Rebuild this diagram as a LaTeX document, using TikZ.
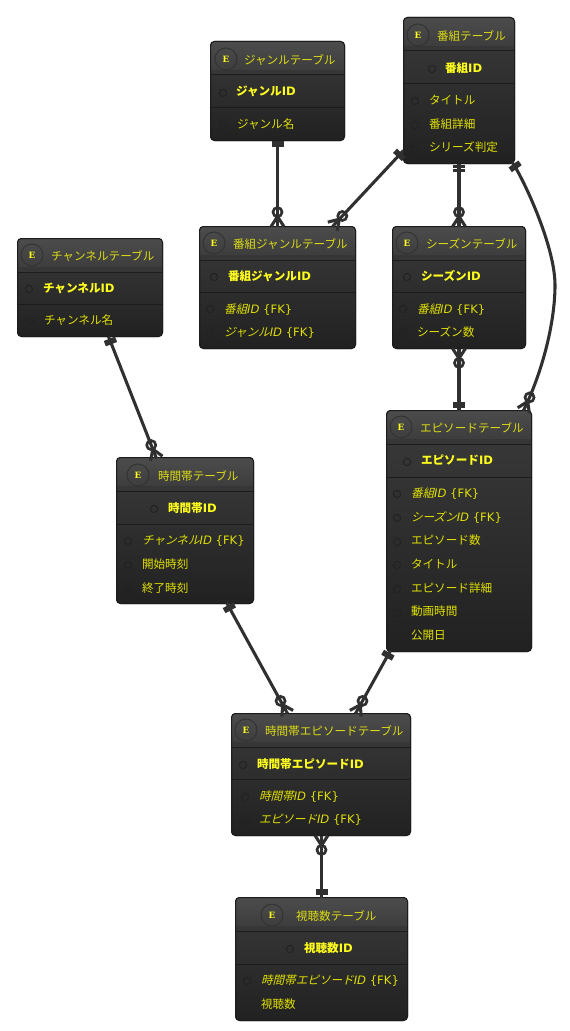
\documentclass[tikz,border=0pt]{standalone}
\usepackage{fontspec}
\setmainfont{DejaVu Sans}
\newfontfamily\jpfont{Noto Sans CJK JP}
\newfontfamily\jpslant[FakeSlant=0.25]{Noto Sans CJK JP}
\newfontfamily\badgefnt{DejaVu Serif}
\usetikzlibrary{calc}
\definecolor{boxedge}{HTML}{1C1C1C}
\definecolor{linkcol}{HTML}{303030}
\definecolor{titlecol}{HTML}{DCDC14}
\definecolor{keycol}{HTML}{FFFF1E}
\definecolor{attrcol}{HTML}{E0E000}
\newcommand{\J}[1]{{\jpfont #1}}
\newcommand{\JB}[1]{{\jpfont\bfseries #1}}
\newcommand{\JI}[1]{{\jpslant #1}}
\tikzset{
  x=0.75pt,y=-0.75pt,
  entbox/.style={anchor=north west,inner sep=0pt,outer sep=0pt,rounded corners=3pt,
    draw=boxedge,line width=0.75pt},
  txt/.style={anchor=base west,inner sep=0pt,outer sep=0pt,font=\fontsize{8.7pt}{11pt}\selectfont},
  titletxt/.style={txt,text=titlecol,yshift=-0.4pt},
  keytxt/.style={txt,text=keycol,font=\fontsize{8.7pt}{11pt}\selectfont\bfseries},
  attrtxt/.style={txt,text=attrcol},
  fktxt/.style={txt,text=attrcol},
  badge/.style={circle,draw=black!80,line width=0.75pt,minimum size=16.5pt,inner sep=0pt,outer sep=0pt,
    text=keycol,text height=4.8pt,text depth=0pt,font=\fontsize{6.5pt}{7pt}\badgefnt\bfseries},
  rowdotstyle/.style={circle,draw=black!87,line width=0.7pt,minimum size=5.5pt,inner sep=0pt,outer sep=0pt},
  linkline/.style={draw=linkcol,line width=2.3pt},
  linkmark/.style={draw=linkcol,line width=2.3pt},
}
% name, x1, y1, x2, y2, header bottom, divider
\newcommand{\entity}[7]{%
  \node[entbox,minimum width={(#4-#2-1)*0.75pt},minimum height={(#5-#3-1)*0.75pt},
        top color=black!77,bottom color=black!87] (#1) at (#2+0.5,#3+0.5) {};
  \begin{scope}
    \clip[rounded corners=3pt] (#1.north west) rectangle (#1.south east);
    \fill[top color=black!70,bottom color=black!76] (#2,#3) rectangle (#4,#6-5);
    \fill[black!79] (#2,#6-5) rectangle (#4,#6);
    \draw[boxedge,line width=0.75pt] (#2,#6) -- (#4,#6);
    \draw[boxedge,line width=0.6pt] (#2,#7) -- (#4,#7);
  \end{scope}
  \draw[boxedge,line width=0.75pt,rounded corners=3pt] (#1.north west) rectangle (#1.south east);
}
% style, name, x, y, text
\newcommand{\rowtxt}[5]{\node[#1] (#2) at (#3,#4+4.5) {#5};}
\newcommand{\rowdot}[3]{\node[rowdotstyle] (#1) at (#2,#3) {};}
\newcommand{\bdg}[3]{\node[badge] (#1) at (#2,#3) {E};}
% bar across the link: at point #1 towards #2 at distance #3
\newcommand{\onebar}[3]{%
  \draw[linkmark] ($($(#1)!#3!(#2)$)!4.5pt!90:(#2)$) -- ($($(#1)!#3!(#2)$)!4.5pt!-90:(#2)$);}
% crow's foot with circle: end #1, towards #2
\newcommand{\crow}[2]{%
  \draw[linkmark] ($(#1)!7.5pt!(#2)$) -- ($(#1)!4.8pt!90:(#2)$);
  \draw[linkmark] ($(#1)!7.5pt!(#2)$) -- ($(#1)!4.8pt!-90:(#2)$);
  \draw[linkmark,line width=2pt] ($(#1)!10.8pt!(#2)$) circle[radius=3.4pt];}
\begin{document}
\begin{tikzpicture}
\useasboundingbox (0,0) rectangle (570,1031);
\fill[white] (0,0) rectangle (570,1031);

% ---- entities
\entity{genre}{210}{41}{345}{141}{75}{107}
\bdg{genreE}{226}{59}
\rowtxt{titletxt}{genreT}{244}{59}{\J{ジャンルテーブル}}
\rowdot{genreD1}{223}{93}
\rowtxt{keytxt}{genreK}{236}{91}{\JB{ジャンル}ID}
\rowdot{genreD2}{223}{125}
\rowtxt{attrtxt}{genreA1}{237}{124}{\J{ジャンル名}}

\entity{prog}{403}{17}{515}{164}{51}{83}
\bdg{progE}{418}{35}
\rowtxt{titletxt}{progT}{437}{35}{\J{番組テーブル}}
\rowdot{progD1}{432}{69}
\rowtxt{keytxt}{progK}{445}{68}{\JB{番組}ID}
\rowdot{progD2}{415}{101}
\rowtxt{attrtxt}{progA1}{429}{100}{\J{タイトル}}
\rowdot{progD3}{415}{125}
\rowtxt{attrtxt}{progA2}{429}{124}{\J{番組詳細}}
\rowdot{progD4}{415}{149}
\rowtxt{attrtxt}{progA3}{429}{147}{\J{シリーズ判定}}

\entity{bg}{199}{226}{356}{349}{260}{292}
\bdg{bgE}{214}{243}
\rowtxt{titletxt}{bgT}{233}{243}{\J{番組ジャンルテーブル}}
\rowdot{bgD1}{214}{277}
\rowtxt{keytxt}{bgK}{228}{276}{\JB{番組ジャンル}ID}
\rowdot{bgD2}{210}{309}
\rowtxt{fktxt}{bgA1}{224}{309}{\JI{番組}\textit{ID} \{FK\}}
\rowdot{bgD3}{210}{333}
\rowtxt{fktxt}{bgA2}{224}{332}{\JI{ジャンル}\textit{ID} \{FK\}}

\entity{season}{392}{226}{526}{349}{260}{292}
\bdg{seasonE}{407}{243}
\rowtxt{titletxt}{seasonT}{426}{243}{\J{シーズンテーブル}}
\rowdot{seasonD1}{407}{277}
\rowtxt{keytxt}{seasonK}{421}{276}{\JB{シーズン}ID}
\rowdot{seasonD2}{403}{309}
\rowtxt{fktxt}{seasonA1}{417}{309}{\JI{番組}\textit{ID} \{FK\}}
\rowdot{seasonD3}{403}{333}
\rowtxt{attrtxt}{seasonA2}{417}{332}{\J{シーズン数}}

\entity{channel}{17}{238}{163}{337}{272}{304}
\bdg{channelE}{32}{255}
\rowtxt{titletxt}{channelT}{51}{255}{\J{チャンネルテーブル}}
\rowdot{channelD1}{29}{289}
\rowtxt{keytxt}{channelK}{43}{288}{\JB{チャンネル}ID}
\rowdot{channelD2}{30}{321}
\rowtxt{attrtxt}{channelA1}{44}{320}{\J{チャンネル名}}

\entity{slot}{116}{457}{254}{604}{491}{524}
\bdg{slotE}{138}{475}
\rowtxt{titletxt}{slotT}{158}{475}{\J{時間帯テーブル}}
\rowdot{slotD1}{154}{509}
\rowtxt{keytxt}{slotK}{168}{508}{\JB{時間帯}ID}
\rowdot{slotD2}{128}{541}
\rowtxt{fktxt}{slotA1}{142}{540}{\JI{チャンネル}\textit{ID} \{FK\}}
\rowdot{slotD3}{128}{565}
\rowtxt{attrtxt}{slotA2}{142}{564}{\J{開始時刻}}
\rowdot{slotD4}{128}{589}
\rowtxt{attrtxt}{slotA3}{142}{588}{\J{終了時刻}}

\entity{epi}{386}{410}{532}{652}{444}{477}
\bdg{epiE}{401}{427}
\rowtxt{titletxt}{epiT}{420}{427}{\J{エピソードテーブル}}
\rowdot{epiD1}{407}{462}
\rowtxt{keytxt}{epiK}{421}{460}{\JB{エピソード}ID}
\rowdot{epiD2}{397}{494}
\rowtxt{fktxt}{epiA1}{411}{493}{\JI{番組}\textit{ID} \{FK\}}
\rowdot{epiD3}{397}{518}
\rowtxt{fktxt}{epiA2}{411}{517}{\JI{シーズン}\textit{ID} \{FK\}}
\rowdot{epiD4}{397}{542}
\rowtxt{attrtxt}{epiA3}{411}{540}{\J{エピソード数}}
\rowdot{epiD5}{397}{565}
\rowtxt{attrtxt}{epiA4}{411}{564}{\J{タイトル}}
\rowdot{epiD6}{397}{589}
\rowtxt{attrtxt}{epiA5}{411}{588}{\J{エピソード詳細}}
\rowdot{epiD7}{397}{613}
\rowtxt{attrtxt}{epiA6}{411}{611}{\J{動画時間}}
\rowtxt{attrtxt}{epiA7}{411}{635}{\J{公開日}}

\entity{tse}{231}{713}{411}{836}{747}{779}
\bdg{tseE}{246}{730}
\rowtxt{titletxt}{tseT}{265}{730}{\J{時間帯エピソードテーブル}}
\rowdot{tseD1}{243}{765}
\rowtxt{keytxt}{tseK}{257}{764}{\JB{時間帯エピソード}ID}
\rowdot{tseD2}{245}{797}
\rowtxt{fktxt}{tseA1}{259}{796}{\JI{時間帯}\textit{ID} \{FK\}}
\rowdot{tseD3}{245}{821}
\rowtxt{fktxt}{tseA2}{259}{819}{\JI{エピソード}\textit{ID} \{FK\}}

\entity{rate}{235}{897}{408}{1021}{931}{964}
\bdg{rateE}{272}{915}
\rowtxt{titletxt}{rateT}{296}{915}{\J{視聴数テーブル}}
\rowdot{rateD1}{290}{949}
\rowtxt{keytxt}{rateK}{304}{948}{\JB{視聴数}ID}
\rowdot{rateD2}{247}{981}
\rowtxt{fktxt}{rateA1}{261}{980}{\JI{時間帯エピソード}\textit{ID} \{FK\}}
\rowtxt{attrtxt}{rateA2}{261}{1004}{\J{視聴数}}

% ---- connector end points
\coordinate (gA) at (genre.south);
\coordinate (gB) at (bg.north);
\coordinate (pbA) at ($(prog.south west)+(0,-13)$);
\coordinate (pbB) at ($(bg.north west)+(133,0)$);
\coordinate (psA) at (prog.south);
\coordinate (psB) at (season.north);
\coordinate (peA) at ($(prog.south east)+(-2.5,-1.5)$);
\coordinate (peB) at ($(epi.north east)+(-8,0)$);
\coordinate (peAt) at ($(peA)+(10,14)$);
\coordinate (peBt) at ($(peB)+(6,-13)$);
\coordinate (seA) at (season.south);
\coordinate (seB) at (epi.north);
\coordinate (csA) at ($(channel.south west)+(91,0)$);
\coordinate (csB) at ($(slot.north west)+(40,1)$);
\coordinate (stA) at ($(slot.south west)+(110,-1)$);
\coordinate (stB) at ($(tse.north west)+(56,0)$);
\coordinate (etA) at ($(epi.south west)+(4,-1)$);
\coordinate (etB) at ($(tse.north west)+(124,0)$);
\coordinate (trA) at ($(tse.south)+(0.5,0)$);
\coordinate (trB) at (trA |- rate.north);

% ---- connectors
\draw[linkline] (gA) -- (gB);
\onebar{gA}{gB}{1.7pt}\onebar{gA}{gB}{3.7pt}
\crow{gB}{gA}

\draw[linkline] (pbA) -- (pbB);
\onebar{pbA}{pbB}{3.5pt}\onebar{pbA}{pbB}{5.5pt}
\crow{pbB}{pbA}

\draw[linkline] (psA) -- (psB);
\onebar{psA}{psB}{2.4pt}\onebar{psA}{psB}{5.4pt}
\crow{psB}{psA}

\draw[linkline] (peA) .. controls (peAt) and (555,245) .. (555,285)
  .. controls (555,325) and (541,375) .. (peB);
\onebar{peA}{peAt}{3pt}\onebar{peA}{peAt}{5pt}
\crow{peB}{peBt}

\draw[linkline] (seA) -- (seB);
\crow{seA}{seB}
\onebar{seB}{seA}{3.4pt}\onebar{seB}{seA}{5.6pt}

\draw[linkline] (csA) -- (csB);
\onebar{csA}{csB}{3pt}\onebar{csA}{csB}{5pt}
\crow{csB}{csA}

\draw[linkline] (stA) -- (stB);
\onebar{stA}{stB}{3.5pt}\onebar{stA}{stB}{5.5pt}
\crow{stB}{stA}

\draw[linkline] (etA) -- (etB);
\onebar{etA}{etB}{3pt}\onebar{etA}{etB}{5pt}
\crow{etB}{etA}

\draw[linkline] (trA) -- (trB);
\crow{trA}{trB}
\onebar{trB}{trA}{3.4pt}\onebar{trB}{trA}{5.6pt}
\end{tikzpicture}
\end{document}
